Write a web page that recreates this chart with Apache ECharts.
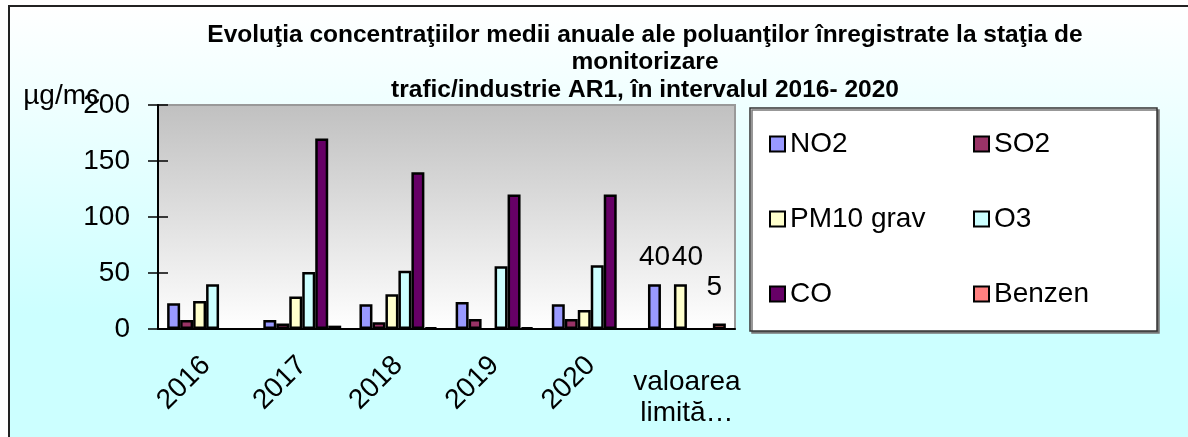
<!DOCTYPE html>
<html>
<head>
<meta charset="utf-8">
<title>Evoluţia concentraţiilor medii anuale AR1</title>
<script src="https://cdn.jsdelivr.net/npm/echarts@6/dist/echarts.min.js"></script>
<style>
  html, body { margin: 0; padding: 0; background: #fff; }
  #frame {
    position: absolute; left: 8px; top: 5px; width: 1190px; height: 440px;
    border-left: 2px solid #222; border-top: 2px solid #222;
    background: linear-gradient(to bottom, #ffffff 0%, #ccffff 70%, #ccffff 100%);
  }
  #chart { position: absolute; left: 0; top: 0; width: 1188px; height: 437px; }
</style>
</head>
<body>
<div id="frame"></div>
<div id="chart"></div>
<script>
// categorii si valori (µg/mc)
const categories = ['2016', '2017', '2018', '2019', '2020', 'valoarea\nlimită…'];
const no2 = [23, 8, 22, 24, 22, 40];
const so2 = [8, 5, 6, 9, 9, null];
const pm10 = [25, 29, 31, null, 17, 40];
const o3 = [40, 51, 52, 56, 57, null];
const co = [null, 170, 140, 120, 120, null];
const benzen = [null, 3, 1.5, 1.5, null, 5];
const yTicks = [0, 50, 100, 150, 200];

const limitIndex = categories.length - 1;
const font = 'Liberation Sans, Arial, sans-serif';

const chart = echarts.init(document.getElementById('chart'));

function bar(name, data, color, label) {
  return {
    name: name,
    type: 'bar',
    data: data,
    barGap: '0%',
    barCategoryGap: '19%',
    itemStyle: {color: color, borderColor: '#000', borderWidth: 2.5},
    label: Object.assign({
      show: !!label,
      position: 'top',
      fontFamily: font,
      fontSize: 28,
      color: '#000',
      formatter: p => (p.dataIndex === limitIndex && p.value != null ? p.value : '')
    }, label || {})
  };
}

const option = {
  backgroundColor: 'transparent',
  animation: false,
  textStyle: {fontFamily: font},
  title: {
    text: 'Evoluţia concentraţiilor medii anuale ale poluanţilor înregistrate la staţia de\nmonitorizare\ntrafic/industrie AR1, în intervalul 2016- 2020',
    left: 645,
    top: 21,
    padding: 0,
    textAlign: 'center',
    textStyle: {fontFamily: font, fontSize: 24.5, fontWeight: 'bold', color: '#000', lineHeight: 27.5}
  },
  grid: {
    left: 158, top: 105, right: 453, bottom: 108,
    show: true,
    borderColor: '#999',
    borderWidth: 2,
    backgroundColor: new echarts.graphic.LinearGradient(0, 0, 0, 1, [
      {offset: 0, color: '#c0c0c0'},
      {offset: 1, color: '#ffffff'}
    ])
  },
  legend: [
    {
      data: ['NO2', 'PM10 grav', 'CO'],
      orient: 'vertical', left: 769, top: 129, padding: 0,
      itemWidth: 15, itemHeight: 15, itemGap: 45, icon: 'rect',
      textStyle: {fontFamily: font, fontSize: 28, color: '#000', lineHeight: 30},
      z: 5
    },
    {
      data: ['SO2', 'O3', 'Benzen'],
      orient: 'vertical', left: 973, top: 129, padding: 0,
      itemWidth: 15, itemHeight: 15, itemGap: 45, icon: 'rect',
      textStyle: {fontFamily: font, fontSize: 28, color: '#000', lineHeight: 30},
      z: 5
    }
  ],
  graphic: [{
    type: 'rect',
    z: 1,
    shape: {x: 750, y: 108, width: 407, height: 223},
    style: {fill: '#fff', stroke: '#333', lineWidth: 1.5, shadowColor: '#777', shadowOffsetX: 2, shadowOffsetY: 2, shadowBlur: 0}
  }],
  xAxis: [
    {
      type: 'category',
      data: categories,
      position: 'bottom',
      axisLine: {lineStyle: {color: '#000', width: 2}},
      axisTick: {length: 10, lineStyle: {color: '#000', width: 1.5}},
      axisLabel: {
        rotate: 45, margin: 32, fontFamily: font, fontSize: 28, color: '#000', interval: 0,
        formatter: (v, i) => (i === limitIndex ? '' : v)
      }
    },
    {
      type: 'category',
      data: categories,
      position: 'bottom',
      axisLine: {show: false},
      axisTick: {inside: true, length: 9, lineStyle: {color: '#000', width: 1.5}},
      axisLabel: {
        margin: 38, fontFamily: font, fontSize: 28, color: '#000', lineHeight: 31, interval: 0,
        formatter: (v, i) => (i === limitIndex ? v : '')
      }
    }
  ],
  yAxis: [
    {
      type: 'value',
      min: yTicks[0], max: yTicks[yTicks.length - 1], interval: 50,
      name: 'µg/mc',
      nameLocation: 'end',
      nameGap: 9,
      nameMoveOverlap: false,
      nameTextStyle: {fontFamily: font, fontSize: 28, color: '#000', align: 'right', verticalAlign: 'middle', padding: [0, 58, 0, 0]},
      axisLine: {show: true, lineStyle: {color: '#000', width: 2}},
      axisTick: {show: true, length: 10, lineStyle: {color: '#000', width: 1.5}},
      axisLabel: {margin: 28, fontFamily: font, fontSize: 28, color: '#000'},
      splitLine: {show: false}
    },
    {
      type: 'value',
      position: 'left',
      min: yTicks[0], max: yTicks[yTicks.length - 1], interval: 50,
      axisLine: {show: false},
      axisTick: {show: true, inside: true, length: 10, lineStyle: {color: '#000', width: 1.5}},
      axisLabel: {show: false},
      splitLine: {show: false}
    }
  ],
  series: [
    bar('NO2', no2, '#9999ff', {distance: 13}),
    bar('SO2', so2, '#993366'),
    bar('PM10 grav', pm10, '#ffffcc', {distance: 13, offset: [7, 0]}),
    bar('O3', o3, '#ccffff'),
    bar('CO', co, '#660066'),
    bar('Benzen', benzen, '#ff8080', {distance: 22, offset: [-5, 0]})
  ]
};

chart.setOption(option);
</script>
</body>
</html>
